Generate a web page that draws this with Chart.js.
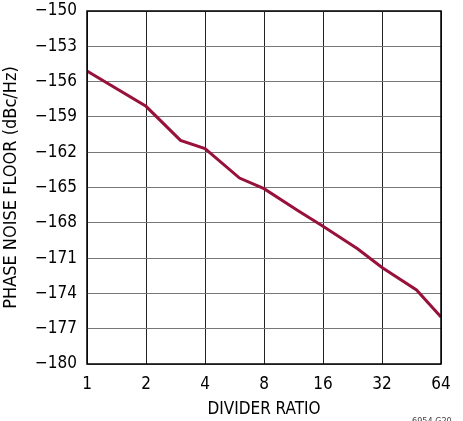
<!DOCTYPE html>
<html><head><meta charset="utf-8">
<script src="https://cdn.jsdelivr.net/npm/chart.js@4/dist/chart.umd.min.js"></script>
<style>html,body{margin:0;padding:0;background:#fff}#wrap{width:463px;height:421px;position:relative}</style>
</head><body><div id="wrap"><canvas id="c" width="463" height="421"></canvas></div>
<script>
const dividerRatios = [1, 2, 3, 4, 6, 8, 12, 16, 24, 32, 48, 64];
const phaseNoise = [-155.1, -158.1, -161.0, -161.7, -164.2, -165.1, -167.0, -168.3, -170.2, -171.8, -173.7, -176.0];
const xTicks = [1, 2, 4, 8, 16, 32, 64];
const yMin = -180, yMax = -150, yStep = 3;
const FONT = "'Liberation Sans Narrow','DejaVu Sans Condensed','DejaVu Sans',sans-serif";

const footer = {
  id: 'footer',
  afterDraw(chart) {
    const ctx = chart.ctx;
    ctx.save();
    ctx.font = "condensed 9px " + FONT;
    ctx.fillStyle = '#444';
    ctx.textAlign = 'left';
    ctx.textBaseline = 'alphabetic';
    ctx.fillText('6954 G20', 412, 424);
    const a = chart.chartArea;
    ctx.strokeStyle = '#000';
    ctx.lineWidth = 1.5;
    ctx.strokeRect(a.left, a.top, a.right - a.left, a.bottom - a.top);
    ctx.restore();
  }
};

new Chart(document.getElementById('c'), {
  type: 'line',
  data: {
    datasets: [{
      data: dividerRatios.map((r, i) => ({x: r, y: phaseNoise[i]})),
      borderColor: '#97113a',
      borderWidth: 3,
      pointRadius: 0,
      tension: 0,
      fill: false
    }]
  },
  options: {
    responsive: false,
    animation: false,
    plugins: {legend: {display: false}, tooltip: {enabled: false}},
    layout: {padding: {left: 0, right: 22, top: 11, bottom: 0}},
    scales: {
      x: {
        type: 'logarithmic',
        min: 1, max: 64,
        afterBuildTicks: s => { s.ticks = xTicks.map(v => ({value: v})); },
        afterFit: s => { s.height = 57; s.paddingLeft = 0; s.paddingRight = 0; },
        ticks: {
          callback: v => String(v),
          color: '#000', font: {family: FONT, size: 17, weight: 'condensed'}, padding: 10, maxRotation: 0, autoSkip: false
        },
        grid: {color: '#222', lineWidth: 1, drawTicks: false},
        border: {display: false},
        title: {display: true, text: 'DIVIDER RATIO', color: '#000', font: {family: FONT, size: 17, weight: 'condensed'}, padding: {top: 0, bottom: 1}}
      },
      y: {
        type: 'linear',
        min: yMin, max: yMax,
        afterFit: s => { s.width = 87; s.paddingTop = 0; s.paddingBottom = 0; },
        ticks: {
          stepSize: yStep,
          callback: v => String(v).replace('-', '\u2212'),
          color: '#000', font: {family: FONT, size: 17, weight: 'condensed'}, padding: 10
        },
        grid: {color: '#777', lineWidth: 1, drawTicks: false},
        border: {display: false},
        title: {display: true, text: 'PHASE NOISE FLOOR (dBc/Hz)', color: '#000', font: {family: FONT, size: 18, weight: 'condensed'}, padding: {top: 1, bottom: 0}}
      }
    }
  },
  plugins: [footer]
});
</script></body></html>
